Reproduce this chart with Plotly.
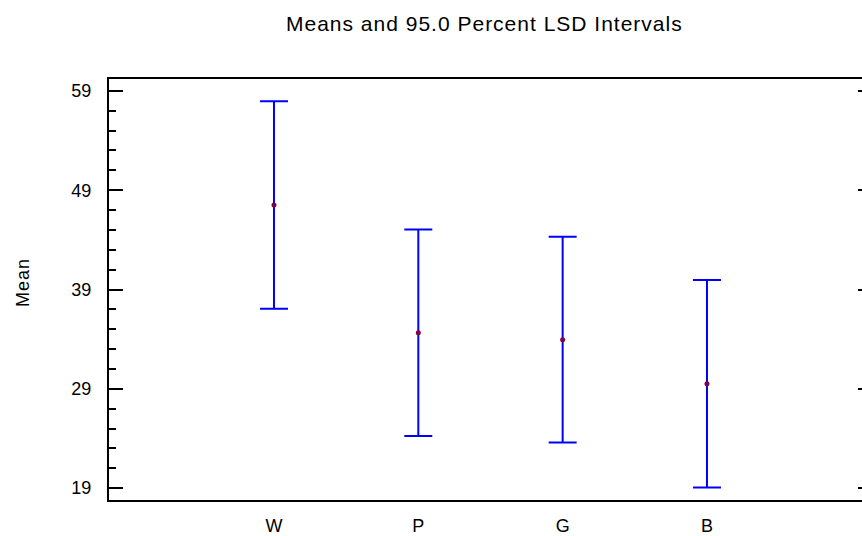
import plotly.graph_objects as go

categories = ["W", "P", "G", "B"]
means = [47.5, 34.65, 33.95, 29.5]
lsd_half = [10.45, 10.4, 10.35, 10.45]
y_tick_vals = [19, 29, 39, 49, 59]

xpos = list(range(len(categories)))
FONT = "Arial, Liberation Sans, sans-serif"

fig = go.Figure()
fig.add_trace(go.Scatter(
    x=xpos, y=means, mode="markers",
    marker=dict(color="#800040", size=5),
    error_y=dict(type="data", array=lsd_half, symmetric=True,
                 color="#0000FF", thickness=2, width=14),
    showlegend=False, hoverinfo="skip",
))
# invisible trace to attach right-side tick axis
fig.add_trace(go.Scatter(x=[xpos[0]], y=[means[0]], yaxis="y2", mode="markers",
                         marker=dict(opacity=0), showlegend=False, hoverinfo="skip"))

yrange = [17.8, 60.2]
fig.update_layout(
    width=862, height=536,
    margin=dict(l=109, r=0, t=79, b=34),
    paper_bgcolor="white", plot_bgcolor="white",
    font=dict(family=FONT, size=18, color="#000000"),
    xaxis=dict(
        range=[-1.143, 4.074], tickvals=xpos, ticktext=categories,
        showgrid=False, zeroline=False, showline=True, linecolor="black",
        linewidth=2, mirror=True, ticks="", ticklabelstandoff=8,
        tickfont=dict(size=18),
    ),
    yaxis=dict(
        range=yrange, tickvals=y_tick_vals, showgrid=False, zeroline=False,
        showline=True, linecolor="black", linewidth=2,
        ticks="inside", ticklen=14, tickwidth=2, tickcolor="black",
        minor=dict(dtick=2, tick0=19, ticks="inside", ticklen=7, tickwidth=2,
                   tickcolor="black", showgrid=False),
        ticklabelstandoff=12, tickfont=dict(size=18),
    ),
    yaxis2=dict(
        range=yrange, tickvals=y_tick_vals, overlaying="y", side="right",
        showgrid=False, zeroline=False, showline=False, showticklabels=False,
        ticks="inside", ticklen=4, tickwidth=2, tickcolor="black",
    ),
    annotations=[
        dict(text='<span style="letter-spacing:1px">Means and 95.0 Percent LSD Intervals</span>',
             xref="paper", yref="paper",
             x=(484 - 109) / 753, y=(502 - 23) / 423, xanchor="center", yanchor="middle",
             showarrow=False, font=dict(size=21, family=FONT)),
        dict(text='<span style="letter-spacing:1px">Mean</span>', xref="paper", yref="paper",
             x=(23 - 109) / 753, y=(502 - 284) / 423, xanchor="center", yanchor="middle",
             textangle=-90, showarrow=False, font=dict(size=18, family=FONT)),
    ],
)

fig.write_html("out.html")
